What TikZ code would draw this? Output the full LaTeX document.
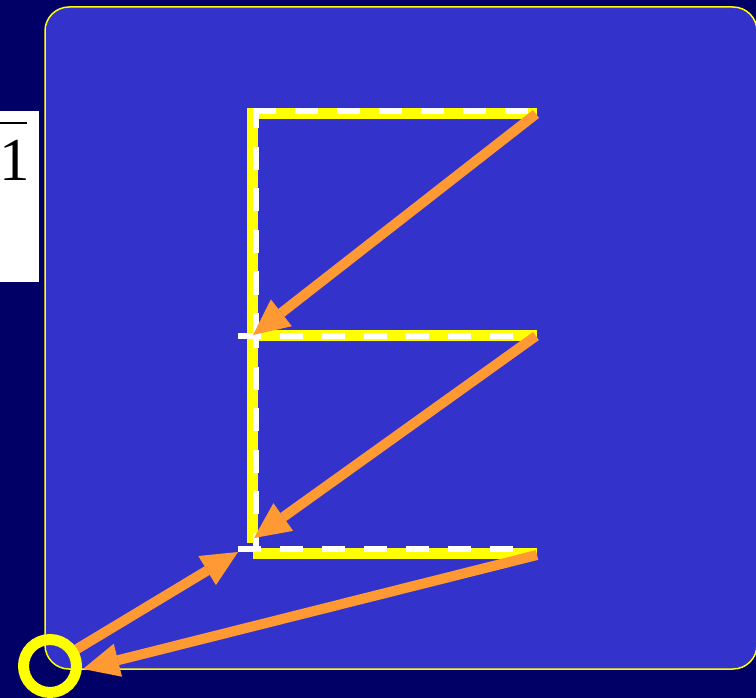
\documentclass[tikz,border=0pt]{standalone}
\usepackage{fontspec}
\newfontfamily\timesfam{Liberation Serif}
\usetikzlibrary{arrows.meta}
\definecolor{bgnavy}{HTML}{000066}
\definecolor{panelblue}{HTML}{3333CC}
\definecolor{ylw}{HTML}{FFFF00}
\definecolor{orng}{HTML}{FF9933}
\begin{document}
\begin{tikzpicture}[x=1pt,y=-1pt,
  yellowbar/.style={draw=ylw,line width=11pt},
  whitedashh/.style={draw=white,line width=6pt,dash pattern=on 23pt off 19pt},
  whitedashv/.style={draw=white,line width=6pt,dash pattern=on 23pt off 18.5pt},
  orangearrow/.style={draw=orng,line width=10pt,-{Triangle[length=36pt,width=34pt,line width=0pt]}},
  ring/.style={draw=ylw,line width=11pt},
]
\useasboundingbox (0,0) rectangle (756,698);
\clip (0,0) rectangle (756,698);
\fill[bgnavy] (0,0) rectangle (756,698);
\draw[ylw,fill=panelblue,line width=1.5pt,rounded corners=24pt] (45,7) rectangle (757,669);

% white box with partial formula
\fill[white] (-1,111) rectangle (38.5,282);
\node[anchor=base west,inner sep=0pt,font=\timesfam\fontsize{61pt}{61pt}\selectfont] (digit) at (-1,181) {1};
\coordinate (barL) at (-1,123);
\coordinate (barR) at (27,123);
\draw[black,line width=2.3pt] (barL) -- (barR);

% named points
\coordinate (tR) at (537,114);
\coordinate (tL) at (252,114);
\coordinate (vEnd) at (252,543);
\coordinate (mL) at (252,335);
\coordinate (mR) at (537,335);
\coordinate (bL) at (253,553.5);
\coordinate (bR) at (537,553.5);

% yellow E
\draw[yellowbar] (tR) -- (tL) -- (vEnd);
\draw[yellowbar] (mL) -- (mR);
\draw[yellowbar] (bL) -- (bR);

% white dashed overlay
\coordinate (wtL) at (253,111);
\coordinate (wtR) at (537,111);
\coordinate (wv1a) at (256,108);
\coordinate (wv1b) at (256,335);
\coordinate (wv2a) at (256,325);
\coordinate (wv2b) at (256,552);
\coordinate (wmL) at (238,335.5);
\coordinate (wmR) at (530,335.5);
\coordinate (wbL) at (238,549);
\coordinate (wbR) at (530,549);
\draw[whitedashh] (wtL) -- (wtR);
\draw[whitedashv,dash phase=2.5pt] (wv1a) -- (wv1b);
\draw[whitedashv] (wv2a) -- (wv2b);
\draw[whitedashh] (wmL) -- (wmR);
\draw[whitedashh] (wbL) -- (wbR);

% orange arrows
\coordinate (a1s) at (536,114);
\coordinate (a1e) at (253,335);
\coordinate (a2s) at (536,336);
\coordinate (a2e) at (254,538);
\coordinate (a3s) at (537,555);
\coordinate (a3e) at (83,669);
\coordinate (a4s) at (72,652);
\coordinate (a4e) at (238,552);
\draw[orangearrow] (a1s) -- (a1e);
\draw[orangearrow] (a2s) -- (a2e);
\draw[orangearrow] (a3s) -- (a3e);
\draw[orangearrow] (a4s) -- (a4e);

% ring
\node[circle,minimum size=0pt,inner sep=0pt] (ringc) at (50,666) {};
\draw[ring] (ringc.center) circle[radius=26.5pt];
\end{tikzpicture}
\end{document}
